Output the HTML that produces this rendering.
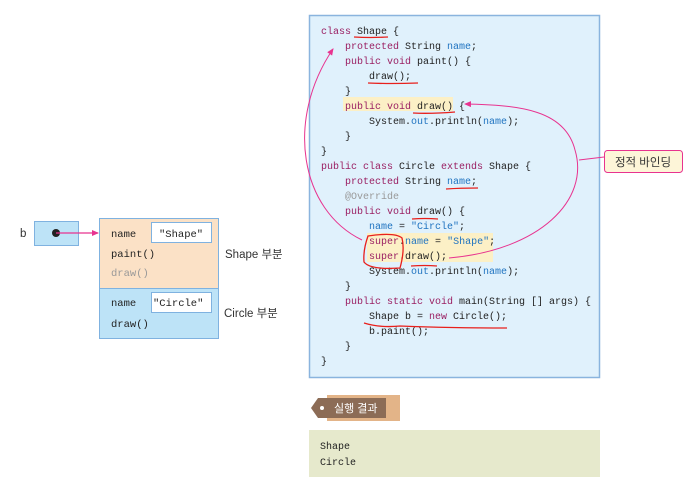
<!DOCTYPE html>
<html><head><meta charset="utf-8"><style>
html,body{margin:0;padding:0;background:#fff;}
svg{display:block;}
.m{font-family:"Liberation Mono","Noto Sans CJK KR",monospace;font-size:10px;fill:#222;}
.s{font-family:"Liberation Sans","Noto Sans CJK KR",sans-serif;font-size:11.5px;fill:#333;}
.k{fill:#9a1f62;}
.b{fill:#1f73c0;}
.g{fill:#999;}
</style></head><body>
<svg width="699" height="481" viewBox="0 0 699 481" xmlns="http://www.w3.org/2000/svg">
<defs>
<marker id="ah" markerWidth="8" markerHeight="8" refX="6" refY="3" orient="auto" markerUnits="userSpaceOnUse"><path d="M0,0 L7,3 L0,6 Z" fill="#e8338f"/></marker>
</defs>
<rect x="309.5" y="15.5" width="290" height="362" fill="#e0f1fc" stroke="#8ab4de" stroke-width="1.5"/>
<rect x="343" y="97" width="110" height="14" fill="#fcf0c6"/>
<rect x="367" y="233" width="126" height="29" fill="#fcf0c6"/>
<g class="m">
<text x="321" y="34"><tspan class="k">class</tspan> Shape {</text>
<text x="345" y="49"><tspan class="k">protected</tspan> String <tspan class="b">name</tspan>;</text>
<text x="345" y="64"><tspan class="k">public void</tspan> paint() {</text>
<text x="369" y="79">draw();</text>
<text x="345" y="94">}</text>
<text x="345" y="109"><tspan class="k">public void</tspan> draw() {</text>
<text x="369" y="124">System.<tspan class="b">out</tspan>.println(<tspan class="b">name</tspan>);</text>
<text x="345" y="139">}</text>
<text x="321" y="154">}</text>
<text x="321" y="169"><tspan class="k">public class</tspan> Circle <tspan class="k">extends</tspan> Shape {</text>
<text x="345" y="184"><tspan class="k">protected</tspan> String <tspan class="b">name</tspan>;</text>
<text x="345" y="199" class="g">@Override</text>
<text x="345" y="214"><tspan class="k">public void</tspan> draw() {</text>
<text x="369" y="229"><tspan class="b">name</tspan> = <tspan class="b">"Circle"</tspan>;</text>
<text x="369" y="244"><tspan class="k">super</tspan>.<tspan class="b">name</tspan> = <tspan class="b">"Shape"</tspan>;</text>
<text x="369" y="259"><tspan class="k">super</tspan>.draw();</text>
<text x="369" y="274">System.<tspan class="b">out</tspan>.println(<tspan class="b">name</tspan>);</text>
<text x="345" y="289">}</text>
<text x="345" y="304"><tspan class="k">public static void</tspan> main(String [] args) {</text>
<text x="369" y="319">Shape b = <tspan class="k">new</tspan> Circle();</text>
<text x="369" y="334">b.paint();</text>
<text x="345" y="349">}</text>
<text x="321" y="364">}</text>
</g>
<g stroke="#e8201c" stroke-width="1.3" fill="none">
<path d="M354,37 Q370,38 388,37"/>
<path d="M368,83 Q390,84 418,83"/>
<path d="M413,113 Q430,114 455,112"/>
<path d="M446,189 Q460,188 478,188"/>
<path d="M412,219 Q425,218 438,219"/>
<path d="M411,266 Q425,265 437,266"/>
<path d="M364,323 Q380,328 400,326 Q450,328 507,328"/>
<path d="M368,236 Q363,250 364,262 Q370,270 400,268 Q405,250 402,238 Q395,232 368,236 Z"/>
</g>
<g stroke="#e8338f" stroke-width="1" fill="none">
<path d="M362,240 C300,210 285,120 333,49" marker-end="url(#ah)"/>
<path d="M449,258 C540,250 590,200 575,150 C565,110 520,105 465,104" marker-end="url(#ah)"/>
<path d="M579,160 L604,157"/>
</g>
<rect x="604.5" y="150.5" width="78" height="22" rx="3" fill="#fdf5d8" stroke="#e8338f"/>
<text x="643" y="166" text-anchor="middle" class="s" style="font-size:11.5px">정적 바인딩</text>
<rect x="327" y="395" width="73" height="26" fill="#e3b488"/>
<path d="M318,398 L386,398 L386,418 L318,418 L311,408 Z" fill="#8c6c56"/>
<circle cx="322" cy="408" r="2" fill="#fff"/>
<text x="334" y="412" class="s" style="fill:#fff;font-size:11px">실행 결과</text>
<rect x="309" y="430" width="291" height="47" fill="#e6e9cc"/>
<text x="320" y="449" class="m">Shape</text>
<text x="320" y="465" class="m">Circle</text>
<text x="20" y="237" class="s">b</text>
<rect x="34.5" y="221.5" width="44" height="24" fill="#bde3f7" stroke="#7fb2e0"/>
<circle cx="56" cy="233" r="4" fill="#222"/>
<line x1="56" y1="233" x2="98" y2="233" stroke="#e8338f" stroke-width="1.2" marker-end="url(#ah)"/>
<rect x="99.5" y="218.5" width="119" height="70" fill="#fbe1c6" stroke="#7fb2e0"/>
<rect x="99.5" y="288.5" width="119" height="50" fill="#bde3f7" stroke="#7fb2e0"/>
<rect x="151.5" y="222.5" width="60" height="20" fill="#fff" stroke="#7fb2e0"/>
<rect x="151.5" y="292.5" width="60" height="20" fill="#fff" stroke="#7fb2e0"/>
<g class="m" style="font-size:10.5px">
<text x="111" y="237">name</text>
<text x="159" y="237">"Shape"</text>
<text x="111" y="257">paint()</text>
<text x="111" y="276" class="g">draw()</text>
<text x="111" y="306">name</text>
<text x="153" y="306">"Circle"</text>
<text x="111" y="327">draw()</text>
</g>
<text x="225" y="258" class="s">Shape 부분</text>
<text x="224" y="317" class="s">Circle 부분</text>
</svg>
</body></html>
